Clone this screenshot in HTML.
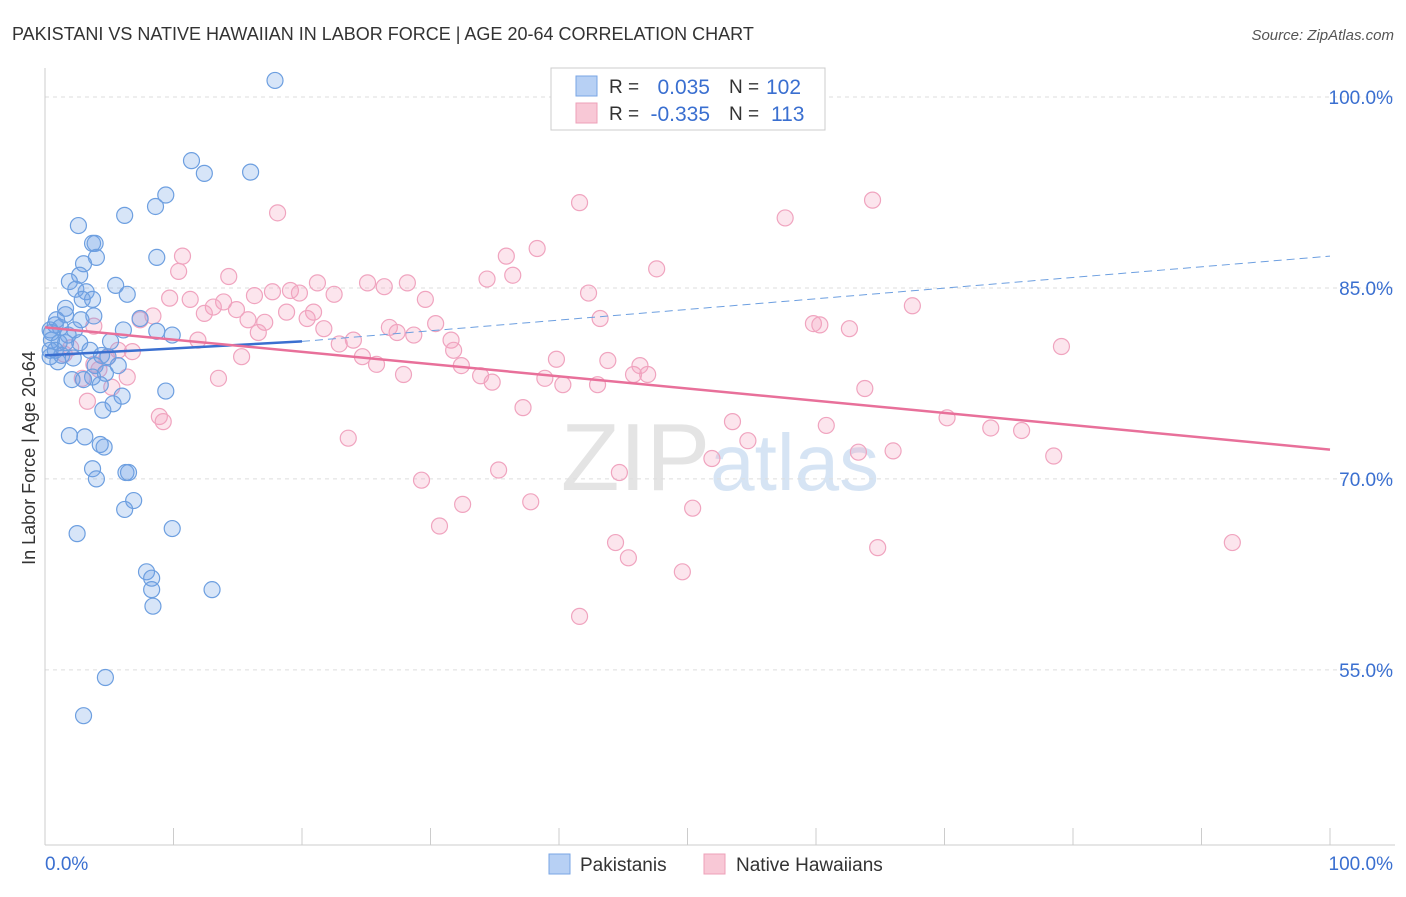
<!DOCTYPE html>
<html><head><meta charset="utf-8"><style>
body{margin:0;background:#fff;font-family:"Liberation Sans",sans-serif;}
svg text{font-family:"Liberation Sans",sans-serif;}
</style></head><body>
<svg id="chart" width="1406" height="892">
<text x="12" y="40" font-size="18" fill="#333">PAKISTANI VS NATIVE HAWAIIAN IN LABOR FORCE | AGE 20-64 CORRELATION CHART</text>
<text x="1394" y="40" font-size="15" fill="#555" text-anchor="end" font-style="italic">Source: ZipAtlas.com</text>
<text x="720" y="490" font-size="96" fill="#e4e4e4" text-anchor="middle" font-family="Liberation Serif">ZIP<tspan fill="#d6e4f4" font-family="Liberation Sans" font-size="80">atlas</tspan></text>
<g id="grid"></g><g id="axes"></g><g id="pts"></g><g id="trend"></g>
<text x="35" y="458" font-size="18" fill="#333" text-anchor="middle" transform="rotate(-90 35 458)">In Labor Force | Age 20-64</text>
<g>
<rect x="551" y="68" width="274" height="62" fill="#fff" stroke="#ccc"/>
<rect x="576" y="76" width="21" height="20" fill="#b7d0f4" stroke="#7aa6e4"/>
<rect x="576" y="103" width="21" height="20" fill="#f8c8d6" stroke="#eea0b8"/>
<text x="609" y="93" font-size="19" fill="#333">R =</text>
<text x="710" y="94" font-size="21" fill="#3a6fd0" text-anchor="end">0.035</text>
<text x="729" y="93" font-size="19" fill="#333">N =</text>
<text x="766" y="94" font-size="21" fill="#3a6fd0">102</text>
<text x="609" y="120" font-size="19" fill="#333">R =</text>
<text x="710" y="121" font-size="21" fill="#3a6fd0" text-anchor="end">-0.335</text>
<text x="729" y="120" font-size="19" fill="#333">N =</text>
<text x="771" y="121" font-size="21" fill="#3a6fd0">113</text>
</g>
<g>
<rect x="549" y="854" width="21" height="20" fill="#b7d0f4" stroke="#7aa6e4"/>
<text x="580" y="871" font-size="19" fill="#333">Pakistanis</text>
<rect x="704" y="854" width="21" height="20" fill="#f8c8d6" stroke="#eea0b8"/>
<text x="736" y="871" font-size="19" fill="#333">Native Hawaiians</text>
</g>
</svg>
<script>
const yTicks=[100,85,70,55];
const yTickLabels=["100.0%","85.0%","70.0%","55.0%"];
const xTickLabels=["0.0%","100.0%"];
const blueX=[17.9,11.4,12.4,16.0,9.4,8.6,6.2,2.6,3.7,3.9,4.0,3.0,8.7,2.7,1.9,2.4,5.5,3.2,6.4,3.7,2.9,1.6,1.6,3.8,2.8,7.4,6.1,0.8,1.2,0.5,1.8,2.3,8.7,9.9,0.5,1.1,1.6,2.7,5.1,0.8,1.3,3.5,4.4,4.9,1.0,2.2,3.9,5.7,3.7,2.1,3.0,4.7,4.3,6.0,5.3,4.5,9.4,1.9,3.1,4.3,4.6,3.7,4.0,6.3,6.5,6.9,6.2,9.9,2.5,7.9,8.3,8.3,8.4,13.0,4.7,3.0,0.4,0.4,0.4,0.9];
const blueY=[101.3,95.0,94.0,94.1,92.3,91.4,90.7,89.9,88.5,88.5,87.4,86.9,87.4,86.0,85.5,84.9,85.2,84.7,84.5,84.1,84.1,83.4,82.9,82.8,82.5,82.6,81.7,82.1,81.9,81.5,81.3,81.7,81.6,81.3,80.9,80.7,80.7,80.7,80.8,80.1,79.7,80.1,79.7,79.6,79.2,79.5,78.9,78.9,78.0,77.8,77.8,78.3,77.4,76.5,75.9,75.4,76.9,73.4,73.3,72.7,72.5,70.8,70.0,70.5,70.5,68.3,67.6,66.1,65.7,62.7,62.2,61.3,60.0,61.3,54.4,51.4,81.7,80.1,79.6,82.5];
const pinkX=[18.1,41.6,64.4,57.6,38.3,35.9,47.6,10.7,10.4,14.3,36.4,34.4,21.2,25.1,28.2,26.4,42.3,16.3,17.7,19.1,19.8,22.5,9.7,11.3,13.9,13.1,29.6,67.5,12.4,14.9,18.8,20.9,15.8,17.1,20.4,21.7,8.4,7.4,43.2,59.8,60.3,62.6,26.8,27.4,30.4,28.7,24.0,22.9,16.6,11.9,3.8,31.6,31.8,79.1,24.7,25.8,32.4,39.8,43.8,15.3,5.7,6.8,4.8,27.9,33.9,34.8,38.9,40.3,43.0,46.3,45.8,46.9,13.5,6.4,5.2,63.8,37.2,8.9,9.2,3.3,2.9,53.5,60.8,70.2,73.6,76.0,23.6,54.7,63.3,66.0,51.9,78.5,35.3,44.7,29.3,32.5,37.8,50.4,30.7,44.4,45.4,49.6,64.8,92.4,41.6,1.5,2.0,3.8,4.2];
const pinkY=[90.9,91.7,91.9,90.5,88.1,87.5,86.5,87.5,86.3,85.9,86.0,85.7,85.4,85.4,85.4,85.1,84.6,84.4,84.7,84.8,84.6,84.5,84.2,84.1,83.9,83.5,84.1,83.6,83.0,83.3,83.1,83.1,82.5,82.3,82.6,81.8,82.8,82.5,82.6,82.2,82.1,81.8,81.9,81.5,82.2,81.3,80.9,80.6,81.5,80.9,82.0,80.9,80.1,80.4,79.6,79.0,78.9,79.4,79.3,79.6,80.1,80.0,79.5,78.2,78.1,77.6,77.9,77.4,77.4,78.9,78.2,78.2,77.9,78.0,77.2,77.1,75.6,74.9,74.5,76.1,77.9,74.5,74.2,74.8,74.0,73.8,73.2,73.0,72.1,72.2,71.6,71.8,70.7,70.5,69.9,68.0,68.2,67.7,66.3,65.0,63.8,62.7,64.6,65.0,59.2,79.8,80.3,79.0,78.6];
const blueTrend=[79.7,80.8,87.5];
const pinkTrend=[81.9,72.3];
const X=v=>45+v*12.85, Y=v=>97+(100-v)*12.73;
const NS="http://www.w3.org/2000/svg";
function mk(tag,parent,attrs){const e=document.createElementNS(NS,tag);for(const k in attrs)e.setAttribute(k,attrs[k]);document.getElementById(parent).appendChild(e);return e;}
yTicks.forEach((t,i)=>{
 const g=mk('line','grid',{x1:45,x2:1395,y1:Y(t),y2:Y(t),stroke:'#ddd','stroke-dasharray':'4,4'});
 
 
 const l=mk('text','axes',{x:1393,y:Y(t)+7,'font-size':19,fill:'#3a6fd0','text-anchor':'end'});l.textContent=yTickLabels[i];
 
 
});
const ax=mk('line','axes',{x1:45,x2:45,y1:68,y2:845,stroke:'#ccc'});


const bx=mk('line','axes',{x1:45,x2:1395,y1:845,y2:845,stroke:'#ccc'});


for(let i=0;i<=10;i++){const t=mk('line','axes',{x1:X(i*10),x2:X(i*10),y1:828,y2:845,stroke:'#ccc'});
 
 }
[[0,'start',45],[1,'end',1393]].forEach(([i,a,x])=>{const t=mk('text','axes',{x:x,y:870,'font-size':19,fill:'#3a6fd0','text-anchor':a});t.textContent=xTickLabels[i];
 
 });
pinkX.forEach((v,i)=>{const c=mk('circle','pts',{cx:X(v),cy:Y(pinkY[i]),r:8,fill:'rgba(244,160,190,0.28)',stroke:'#f0a4bf','stroke-width':1.2});
 
 });
blueX.forEach((v,i)=>{const c=mk('circle','pts',{cx:X(v),cy:Y(blueY[i]),r:8,fill:'rgba(110,160,230,0.28)',stroke:'#6d9fe0','stroke-width':1.2});
 
 });
const b1=mk('line','trend',{x1:X(0),y1:Y(blueTrend[0]),x2:X(20),y2:Y(blueTrend[1]),stroke:'#3a6fd0','stroke-width':2.5});


const b2=mk('line','trend',{x1:X(20),y1:Y(blueTrend[1]),x2:X(100),y2:Y(blueTrend[2]),stroke:'#6d9fe0','stroke-width':1,'stroke-dasharray':'8,5'});


const p1=mk('line','trend',{x1:X(0),y1:Y(pinkTrend[0]),x2:X(100),y2:Y(pinkTrend[1]),stroke:'#e8709a','stroke-width':2.5});


</script>
</body></html>
